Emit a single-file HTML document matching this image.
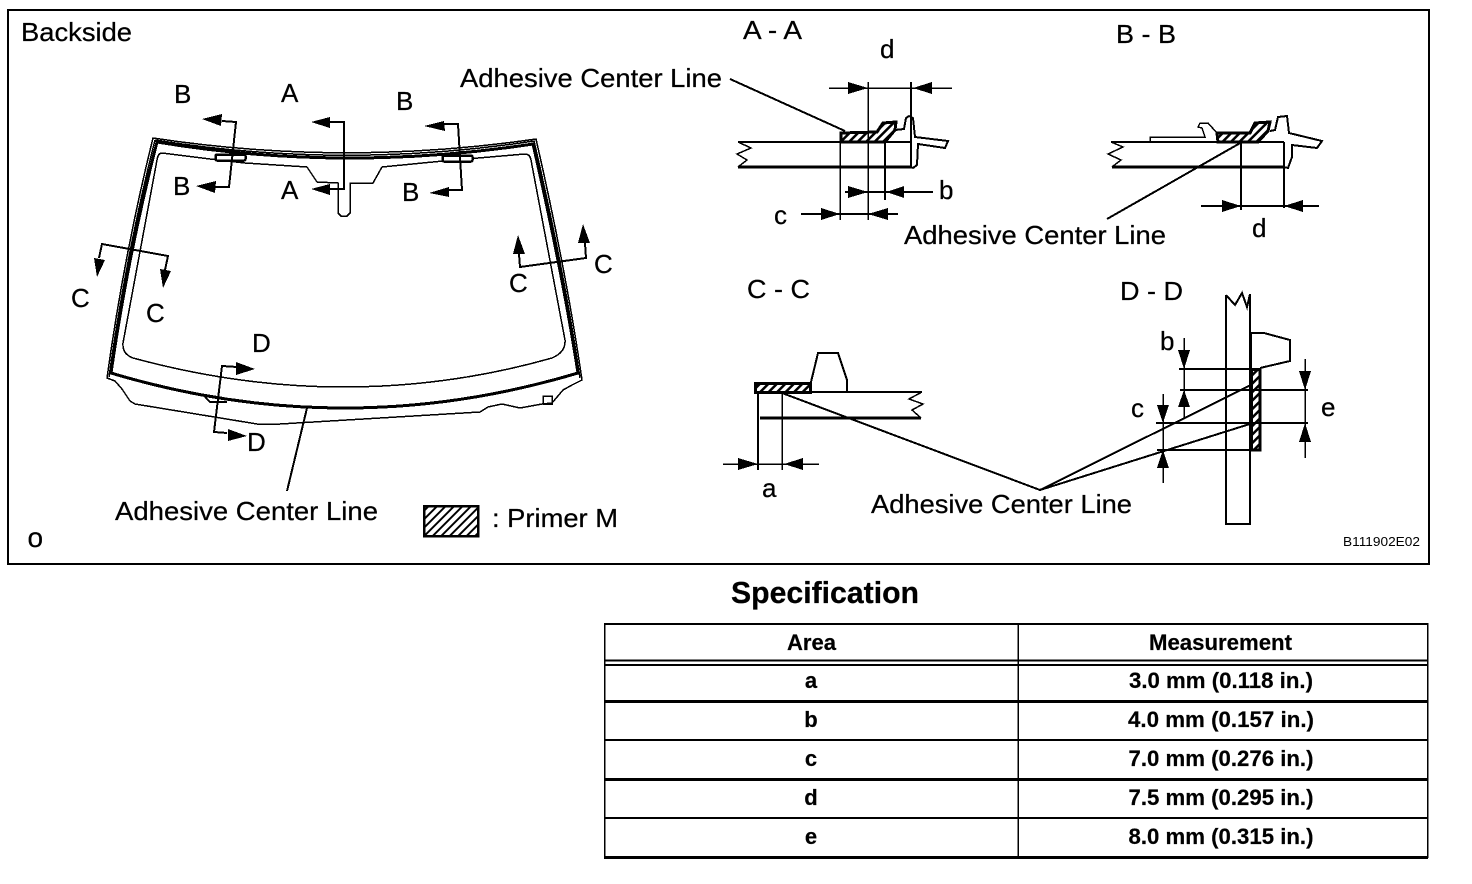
<!DOCTYPE html>
<html>
<head>
<meta charset="utf-8">
<style>
html,body{margin:0;padding:0;background:#fff;width:1472px;height:884px;overflow:hidden}
svg{display:block;shape-rendering:crispEdges}
text{font-family:"Liberation Sans",sans-serif;fill:#000;font-size:26px;stroke:#000;stroke-width:.25}
.b{font-weight:bold;font-size:22px;text-anchor:middle;stroke-width:.2}
.t{fill:none;stroke:#000;stroke-width:1.500}
.m{fill:none;stroke:#000;stroke-width:2}
.k{fill:none;stroke:#000;stroke-width:3}
</style>
</head>
<body>
<svg width="1472" height="884" viewBox="0 0 1472 884" xmlns="http://www.w3.org/2000/svg">
<defs>
<pattern id="h" width="6" height="6" patternUnits="userSpaceOnUse" patternTransform="rotate(45)">
<rect width="6" height="6" fill="#000"/><rect x="0" width="3.400" height="6" fill="#fff"/>
</pattern>
<pattern id="h2" width="6" height="6" patternUnits="userSpaceOnUse" patternTransform="rotate(45)">
<rect width="6" height="6" fill="#fff"/><rect x="0" width="2" height="6" fill="#000"/>
</pattern>
</defs>
<rect x="8" y="10" width="1421" height="554" fill="none" stroke="#000" stroke-width="2"/>

<!-- Windshield -->
<path class="t" d="M153 138 Q343 167 536 139 Q566 270 582 380 L572 385 L563 390 L552 403 L542 404 L520 408 L502 404 L488 407 L480 412 L280 424 L257 424 L190 413 L135 404 L130 401 L122 389 L115 381 L107 378 Q124 255 153 138Z"/>
<path class="t" d="M155 140 Q343 170 534 141 Q564 270 580 378 M109 377 Q126 255 155 140"/>
<path class="k" d="M157 142 Q343 173 533 144 Q562 270 578 373 Q344 443 111 373 Q128 255 157 142Z"/>
<path class="t" d="M162 153 L210 159 L245 163 L307 167 L317 182 L338 183 L338 213 L341 216 L347 216 L350 213 L350 183 L373 183 L382 167 L443 161 L525 154 Q530 154 531 160 L565 340 Q566 352 552 358 Q450 387 343 387 Q240 387 133 358 Q122 354 123 343 L157 160 Q158 153 162 153Z"/>
<rect x="215.500" y="154.500" width="30" height="6" rx="1.500" fill="#fff" stroke="#000" stroke-width="2.500"/>
<rect x="442.500" y="155.500" width="30" height="6" rx="1.500" fill="#fff" stroke="#000" stroke-width="2.500"/>
<path class="m" d="M205 397 L210 402 L227 402"/>
<rect x="543" y="396" width="9" height="8" fill="none" stroke="#000" stroke-width="1.500"/>
<path class="m" d="M307 408 L287 491"/>

<!-- Section markers -->
<g fill="#000">
<path class="m" d="M222 121 L236 122 L229 187 L215 187"/>
<path d="M202 119 L222 114 L221 126Z"/><path d="M196 186 L216 181 L215 193Z"/>
<path class="m" d="M330 122 L344 122 L344 189 L330 189"/>
<path d="M311 122 L330 117 L330 128Z"/><path d="M311 189 L330 184 L330 195Z"/>
<path class="m" d="M444 124 L458 124 L462 190 L449 190"/>
<path d="M424 126 L444 121 L445 131Z"/><path d="M429 193 L449 187 L449 197Z"/>
<path class="m" d="M99 258 L102 244 L168 256 L165 270"/>
<path d="M97 277 L94 258 L105 260Z"/><path d="M163 288 L160 269 L171 271Z"/>
<path class="m" d="M519 254 L520 267 L586 258 L585 243"/>
<path d="M518 235 L513 254 L525 254Z"/><path d="M583 224 L578 243 L590 243Z"/>
<path class="m" d="M237 367 L222 366 L214 432 L227 433"/>
<path d="M255 369 L236 362 L236 375Z"/><path d="M247 436 L228 429 L228 441Z"/>
</g>

<!-- A-A -->
<path class="m" d="M738 142 L912 142"/>
<path class="k" d="M738 167 L912 167"/>
<path class="t" d="M738 142 L751 148 L737 154 L747 160 L738 167"/>
<path d="M841 133 L877 132 L883 123 L896 122 L895 130 L885 142 L841 142Z" fill="url(#h)" stroke="#000" stroke-width="3"/>
<path class="m" d="M895 130 L904 129 L906 118 L909 116 L913 118 L915 137 L948 141 L945 148 L918 144 L917 165 L913 168 L911 167"/>
<path class="m" d="M911 82 L911 167"/>
<path class="t" d="M829 88 L952 88 M868 82 L868 142 M840 142 L840 220 M868 142 L868 220"/>
<path class="m" d="M885 142 L885 200 M845 192 L933 192 M801 214 L898 214"/>
<path class="m" d="M730 79 L845 131"/>
<g fill="#000">
<path d="M868 88 L848 82 L848 94Z"/><path d="M913 88 L932 82 L932 94Z"/>
<path d="M868 192 L848 186 L848 198Z"/><path d="M886 192 L904 186 L904 198Z"/>
<path d="M840 214 L821 208 L821 220Z"/><path d="M868 214 L888 208 L888 220Z"/>
</g>

<!-- B-B -->
<path class="m" d="M1111 142 L1284 142"/>
<path class="k" d="M1112 167 L1284 167"/>
<path class="t" d="M1111 142 L1123 147 L1108 154 L1121 160 L1112 167"/>
<path d="M1217 133 L1250 133 L1255 123 L1270 122 L1268 131 L1258 142 L1218 142Z" fill="url(#h)" stroke="#000" stroke-width="3"/>
<path class="t" d="M1150 142 L1150 137 L1205 137 L1202 128 L1198 127 L1200 123 L1208 123 L1217 133"/>
<path class="m" d="M1270 131 L1275 130 L1278 117 L1287 116 L1289 133 L1322 141 L1317 148 L1292 145 L1292 157 L1288 168 L1284 167 L1284 142"/>
<path class="m" d="M1241 142 L1241 210 M1284 167 L1284 208 M1201 206 L1319 206 M1107 219 L1242 142"/>
<g fill="#000">
<path d="M1241 206 L1222 200 L1222 212Z"/><path d="M1284 206 L1303 200 L1303 212Z"/>
</g>

<!-- C-C -->
<rect x="755.500" y="383.500" width="55" height="9" fill="url(#h)" stroke="#000" stroke-width="3"/>
<path class="m" d="M811 382 L818 353 L838 353 L847 380 L847 392"/>
<path class="m" d="M755 392 L922 392"/>
<path class="k" d="M760 418 L921 418"/>
<path class="t" d="M922 392 L909 399 L923 404 L912 410 L921 418"/>
<path class="m" d="M758 392 L758 470"/>
<path class="t" d="M782 392 L782 470 M723 464 L819 464"/>
<g fill="#000">
<path d="M758 464 L738 458 L738 470Z"/><path d="M784 464 L803 458 L803 470Z"/>
</g>
<path class="m" d="M782 393 L1040 490 L1257 382 M1040 490 L1253 423"/>

<!-- D-D -->
<path class="m" d="M1226 295 L1226 524 L1250 524 L1250 295 M1226 295 L1235 305 L1242 293 L1247 307 L1250 294"/>
<rect x="1251.500" y="369.500" width="8.500" height="80.500" fill="url(#h)" stroke="#000" stroke-width="3"/>
<path class="m" d="M1251 369 L1251 333 L1264 333 L1290 340 L1290 361 L1260 368"/>
<path class="m" d="M1179 369 L1251 369 M1180 390 L1308 390 M1156 423 L1308 423 M1157 450 L1260 450"/>
<path class="t" d="M1184 338 L1184 418"/>
<path class="t" d="M1163 394 L1163 483"/>
<path class="t" d="M1305 359 L1305 458"/>
<g fill="#000">
<path d="M1184 369 L1178 350 L1190 350Z"/><path d="M1184 390 L1178 407 L1190 407Z"/>
<path d="M1163 423 L1157 405 L1169 405Z"/><path d="M1163 450 L1157 468 L1169 468Z"/>
<path d="M1305 390 L1299 371 L1311 371Z"/><path d="M1305 423 L1299 442 L1311 442Z"/>
</g>

<!-- Legend -->
<rect x="424" y="506" width="54" height="30" fill="url(#h2)" stroke="#000" stroke-width="2.500"/>

<!-- Labels -->
<text x="21" y="41" textLength="111" lengthAdjust="spacingAndGlyphs">Backside</text>
<text x="174" y="103">B</text><text x="281" y="102">A</text><text x="396" y="110">B</text>
<text x="173" y="195">B</text><text x="281" y="199">A</text><text x="402" y="201">B</text>
<text x="71" y="307">C</text><text x="146" y="322">C</text><text x="509" y="292">C</text><text x="594" y="273">C</text>
<text x="252" y="352">D</text><text x="247" y="451">D</text>
<text x="115" y="520" textLength="263" lengthAdjust="spacingAndGlyphs">Adhesive Center Line</text>
<text x="460" y="87" textLength="262" lengthAdjust="spacingAndGlyphs">Adhesive Center Line</text>
<text x="904" y="244" textLength="262" lengthAdjust="spacingAndGlyphs">Adhesive Center Line</text>
<text x="871" y="513" textLength="261" lengthAdjust="spacingAndGlyphs">Adhesive Center Line</text>
<text x="743" y="39" textLength="59" lengthAdjust="spacingAndGlyphs">A - A</text>
<text x="1116" y="43" textLength="60" lengthAdjust="spacingAndGlyphs">B - B</text>
<text x="747" y="298" textLength="63" lengthAdjust="spacingAndGlyphs">C - C</text>
<text x="1120" y="300" textLength="63" lengthAdjust="spacingAndGlyphs">D - D</text>
<text x="880" y="58">d</text><text x="939" y="199">b</text><text x="774" y="224">c</text>
<text x="1252" y="237">d</text><text x="762" y="497">a</text>
<text x="1160" y="350">b</text><text x="1131" y="417">c</text><text x="1321" y="416">e</text>
<text x="492" y="527" textLength="126" lengthAdjust="spacingAndGlyphs">: Primer M</text>
<text x="27.500" y="547" style="font-size:28px">o</text>
<text x="1343" y="546" style="font-size:13px;stroke-width:0" textLength="77" lengthAdjust="spacingAndGlyphs">B111902E02</text>

<!-- Table -->
<text x="731" y="603" style="font-size:31px;font-weight:bold" textLength="188" lengthAdjust="spacingAndGlyphs">Specification</text>
<g stroke="#000" fill="none">
<path stroke-width="2" d="M604 624 L1428 624 M604 660.500 L1428 660.500 M604 665 L1428 665 M604 740 L1428 740 M604 818 L1428 818"/>
<path stroke-width="3" d="M604 701.500 L1428 701.500 M604 779.500 L1428 779.500 M604 857.500 L1428 857.500"/>
<path stroke-width="1.500" d="M604.500 623 L604.500 858 M1018 623 L1018 858 M1427.500 623 L1427.500 858"/>
</g>
<text class="b" x="811.500" y="650" textLength="49" lengthAdjust="spacingAndGlyphs">Area</text>
<text class="b" x="1220.500" y="650" textLength="143" lengthAdjust="spacingAndGlyphs">Measurement</text>
<text class="b" x="811" y="688">a</text>
<text class="b" x="811" y="727">b</text>
<text class="b" x="811" y="766">c</text>
<text class="b" x="811" y="805">d</text>
<text class="b" x="811" y="844">e</text>
<text class="b" x="1221" y="688" textLength="184" lengthAdjust="spacingAndGlyphs">3.0 mm (0.118 in.)</text>
<text class="b" x="1221" y="727" textLength="186" lengthAdjust="spacingAndGlyphs">4.0 mm (0.157 in.)</text>
<text class="b" x="1221" y="766" textLength="185" lengthAdjust="spacingAndGlyphs">7.0 mm (0.276 in.)</text>
<text class="b" x="1221" y="805" textLength="185" lengthAdjust="spacingAndGlyphs">7.5 mm (0.295 in.)</text>
<text class="b" x="1221" y="844" textLength="185" lengthAdjust="spacingAndGlyphs">8.0 mm (0.315 in.)</text>
</svg>
</body>
</html>
